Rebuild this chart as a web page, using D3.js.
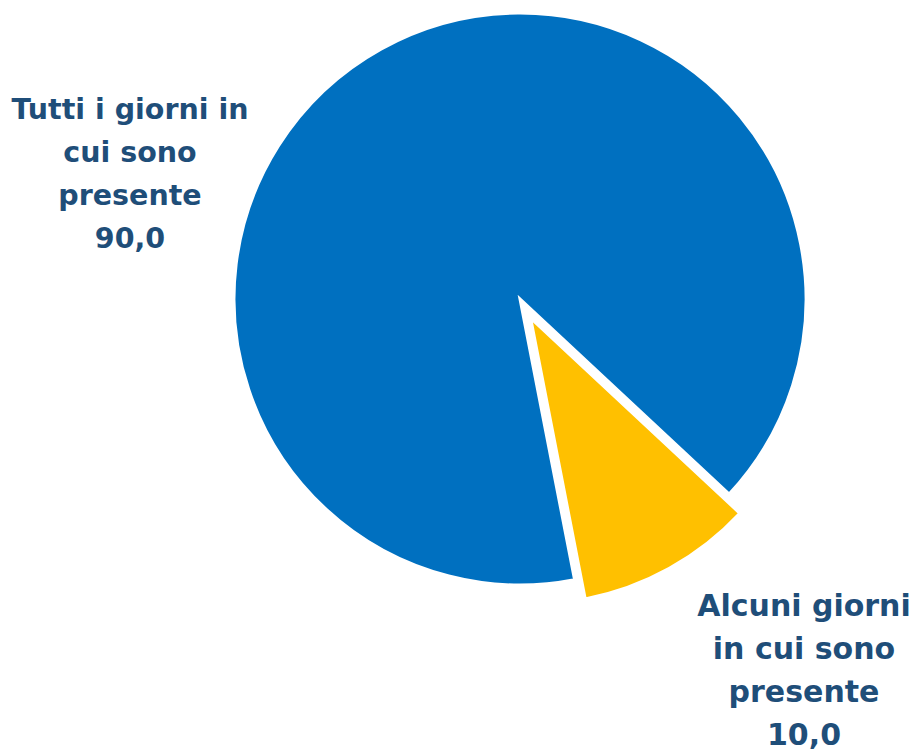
<!DOCTYPE html>
<html lang="it">
<head>
    <meta charset="utf-8">
    <title>Pie chart</title>
    <script type="text/javascript" src="https://cdn.jsdelivr.net/npm/d3@7/dist/d3.min.js"></script>
    <style>
        body { margin: 0; background: #fff; }
        text { font-family: "DejaVu Sans", sans-serif; font-weight: bold; }
    </style>
</head>
<body>
<script type="text/javascript">
    // data
    var categories = ["Alcuni giorni in cui sono presente", "Tutti i giorni in cui sono presente"];
    var values = [10.0, 90.0];
    var colors = ["#FFC000", "#0070C0"];
    var labelLines = [
        ["Alcuni giorni", "in cui sono", "presente", "10,0"],
        ["Tutti i giorni in", "cui sono", "presente", "90,0"]
    ];

    //Width and height
    var w = 918;
    var h = 752;
    var cx = 520, cy = 299;
    var radius = 286;
    var explode = 22;   // yellow slice pulled out

    var svg = d3.select("body")
        .append("svg")
        .attr("width", w)
        .attr("height", h);

    var startDeg = 133;
    var pie = d3.pie()
        .sort(null)
        .value(d => d)
        .startAngle(startDeg * Math.PI / 180)
        .endAngle((startDeg + 360) * Math.PI / 180);

    var arc = d3.arc().innerRadius(0).outerRadius(radius);

    var arcs = pie(values);

    var g = svg.append("g").attr("transform", "translate(" + cx + "," + cy + ")");

    g.selectAll("path")
        .data(arcs)
        .enter()
        .append("path")
        .attr("d", arc)
        .attr("fill", (d, i) => colors[i])
        .attr("stroke", "#fff")
        .attr("stroke-width", 3)
        .attr("stroke-linejoin", "miter")
        .attr("transform", function (d, i) {
            if (i !== 0) return null;
            var a = (d.startAngle + d.endAngle) / 2;
            return "translate(" + (Math.sin(a) * explode) + "," + (-Math.cos(a) * explode) + ")";
        });

    // labels
    var labelPos = [[804, 616], [130, 119]];
    var labelSize = ["30px", "28.5px"];
    var lineH = 43;

    labelLines.forEach(function (lines, i) {
        var t = svg.append("text")
            .attr("x", labelPos[i][0])
            .attr("y", labelPos[i][1])
            .attr("text-anchor", "middle")
            .attr("font-size", labelSize[i])
            .attr("fill", "#1F4E79");
        t.selectAll("tspan")
            .data(lines)
            .enter()
            .append("tspan")
            .attr("x", labelPos[i][0])
            .attr("y", (d, j) => labelPos[i][1] + j * lineH)
            .text(d => d);
    });
</script>
</body>
</html>
